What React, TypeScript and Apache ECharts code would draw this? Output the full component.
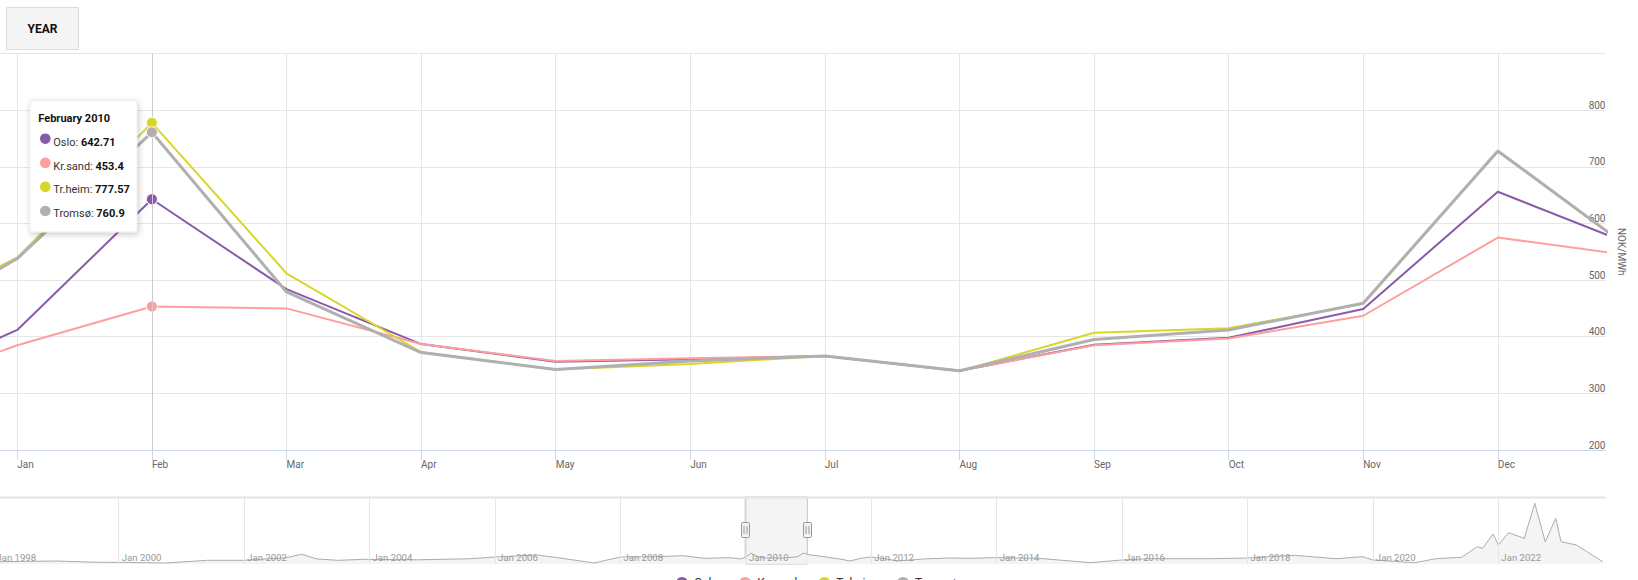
import React, { useEffect, useRef } from "react";
import * as echarts from "echarts";

// ---------- data ----------
const monthLabels = ["Jan", "Feb", "Mar", "Apr", "May", "Jun", "Jul", "Aug", "Sep", "Oct", "Nov", "Dec"];
const monthNamesFull = ["January", "February", "March", "April", "May", "June", "July", "August", "September", "October", "November", "December"];

const pointMonths = ["2009-12", "2010-01", "2010-02", "2010-03", "2010-04", "2010-05", "2010-06", "2010-07", "2010-08", "2010-09", "2010-10", "2010-11", "2010-12", "2011-01"];

const seriesNames = ["Oslo", "Kr.sand", "Tr.heim", "Tromsø"];
const oslo = [305, 412, 642.71, 484, 387, 356, 360, 366, 340, 386, 398, 449, 656, 562];
const krsand = [298, 385, 453.4, 450, 387, 357, 362, 366, 340, 385, 397, 437, 575, 543];
const trheim = [420, 540, 777.57, 512, 373, 342, 352, 366, 339, 407, 415, 458, 727, 553];
const tromso = [400, 538, 760.9, 479, 372, 342, 357, 366, 340, 395, 412, 459, 728, 553];

const hoverMonth = "2010-02";

const yTickMin = 200;
const yTickMax = 900;
const yTickStep = 100;

// navigator (overview) series
const navMonths = [
  "1998-02", "1999-01", "1999-09", "2000-01", "2000-10", "2001-06", "2002-01", "2002-09", "2002-12", "2003-03",
  "2003-07", "2003-12", "2004-10", "2005-08", "2006-01", "2006-09", "2007-01", "2007-08", "2008-01", "2008-08",
  "2009-01", "2009-05", "2009-10", "2009-12", "2010-01", "2010-02", "2010-03", "2010-04", "2010-05", "2010-06",
  "2010-07", "2010-08", "2010-09", "2010-10", "2010-11", "2010-12", "2011-01", "2011-04", "2011-07", "2011-09",
  "2011-11", "2012-01", "2012-04", "2012-06", "2012-11", "2013-04", "2013-08", "2014-01", "2014-09", "2015-07",
  "2016-01", "2016-06", "2017-06", "2018-01", "2018-10", "2019-06", "2019-11", "2020-01", "2020-09", "2021-01",
  "2021-06", "2021-09", "2021-10", "2021-12", "2022-01", "2022-03", "2022-06", "2022-08", "2022-10", "2022-12",
  "2023-01", "2023-04", "2023-06", "2023-09",
];
const navValues = [
  137, 179, 100, 100, 60, 220, 220, 376, 580, 300,
  220, 280, 250, 310, 418, 537, 376, 60, 418, 436,
  496, 340, 376, 305, 412, 643, 484, 387, 356, 360,
  366, 340, 386, 398, 449, 656, 562, 436, 300, 180,
  340, 420, 300, 180, 300, 360, 340, 380, 340, 80,
  239, 316, 316, 358, 518, 316, 438, 239, 78, 316,
  398, 1035, 935, 1791, 1134, 1870, 1533, 3624, 1331, 2728,
  1331, 1134, 736, 137,
];
const navTickYears = [1998, 2000, 2002, 2004, 2006, 2008, 2010, 2012, 2014, 2016, 2018, 2020, 2022];
const rangeStart = "2009-12-28";
const rangeEnd = "2010-12-25";

// ---------- helpers ----------
const seriesColors = ["#8a5aaa", "#ff9e9e", "#dad628", "#b0b0b0"];
const seriesWidths = [2, 2, 2, 3];
const FONT = "Roboto";
const OFFSET = 60; // chart canvas starts 60px left of the page

function monthIndex(ym: string): number {
  const [y, m] = ym.split("-").map(Number);
  return (y - 2010) * 12 + (m - 1);
}
function ts(s: string): number {
  const p = s.split("-").map(Number);
  return Date.UTC(p[0], p[1] - 1, p[2] || 1);
}

export default function App() {
  const ref = useRef<HTMLDivElement>(null);

  useEffect(() => {
    document.body.style.margin = "0";
    document.body.style.overflow = "hidden";
    if (!ref.current) return;
    const chart = echarts.init(ref.current, null, { renderer: "svg" });

    const allValues = [oslo, krsand, trheim, tromso];
    const hoverIdx = pointMonths.indexOf(hoverMonth);
    const hoverX = monthIndex(hoverMonth);
    const tickIdx = monthLabels.map((_, i) => i);

    const mainSeries = seriesNames.map((name, s) => ({
      name,
      type: "line",
      xAxisIndex: 0,
      yAxisIndex: 0,
      data: pointMonths.map((m, i) => [monthIndex(m), allValues[s][i]]),
      symbol: "circle",
      symbolSize: (_v: any, p: any) => (p.dataIndex === hoverIdx ? 11 : 0),
      showSymbol: true,
      itemStyle: { color: seriesColors[s], borderColor: "#ffffff", borderWidth: 1 },
      lineStyle: { color: seriesColors[s], width: seriesWidths[s] },
      emphasis: { disabled: true },
      silent: true,
      z: 3 + s,
      markLine:
        s === 0
          ? {
              silent: true,
              symbol: ["none", "none"],
              label: { show: false },
              lineStyle: { color: "#cccccc", width: 1, type: "solid" },
              data: [{ xAxis: hoverX }],
            }
          : undefined,
    }));

    const navTicks = navTickYears.map((y) => Date.UTC(y, 0, 1));

    chart.setOption({
      animation: false,
      textStyle: { fontFamily: FONT },
      grid: [
        { left: OFFSET, right: 32.5, top: 53.5, height: 396.5 },
        { left: 0, right: 32.5, top: 497, height: 67 },
      ],
      legend: {
        data: seriesNames,
        left: OFFSET + 674,
        top: 575,
        padding: 0,
        icon: "circle",
        itemWidth: 14,
        itemHeight: 14,
        itemGap: 19,
        textStyle: { fontSize: 12, color: "#333", fontFamily: FONT },
      },
      xAxis: [
        {
          type: "value",
          gridIndex: 0,
          min: -0.1285,
          max: 11.8,
          axisLine: { show: true, lineStyle: { color: "#ccd6eb" } },
          axisTick: { show: true, customValues: tickIdx, length: 10, lineStyle: { color: "#ccd6eb" } },
          axisLabel: {
            customValues: tickIdx,
            formatter: (v: number) => monthLabels[Math.round(v)] || "",
            align: "left",
            margin: 9,
            color: "#666",
            fontSize: 10,
            fontFamily: FONT,
          },
          splitLine: { show: true, lineStyle: { color: "#e6e6e6" } },
        },
        {
          type: "value",
          gridIndex: 1,
          z: 5,
          min: Date.UTC(1997, 1, 24),
          max: Date.UTC(2023, 8, 17),
          axisLine: { show: false },
          axisTick: { show: false, customValues: navTicks },
          axisLabel: {
            customValues: navTicks,
            inside: true,
            formatter: (v: number) => "Jan " + new Date(v).getUTCFullYear(),
            align: "left",
            verticalAlign: "bottom",
            margin: 2,
            padding: [0, 0, 0, 3],
            color: "#999",
            fontSize: 9.6,
            fontFamily: FONT,
          },
          splitLine: { show: true, lineStyle: { color: "#e6e6e6" } },
        },
      ],
      yAxis: [
        {
          type: "value",
          gridIndex: 0,
          position: "right",
          min: yTickMin,
          max: yTickMax,
          interval: yTickStep,
          axisLine: { show: false },
          axisTick: { show: false },
          axisLabel: {
            inside: true,
            margin: 0,
            verticalAlign: "bottom",
            color: "#666",
            fontSize: 10,
            fontFamily: FONT,
            showMaxLabel: false,
          },
          splitLine: { show: true, lineStyle: { color: "#e6e6e6" } },
          name: "NOK/MWh",
          nameLocation: "middle",
          nameRotate: -90,
          nameGap: 8,
          nameTextStyle: { color: "#666", fontSize: 10, fontFamily: FONT },
        },
        { type: "value", gridIndex: 1, min: 0, max: 4000, show: false },
      ],
      series: [
        ...mainSeries,
        {
          name: "Navigator",
          type: "line",
          xAxisIndex: 1,
          yAxisIndex: 1,
          z: 1,
          data: navMonths.map((m, i) => [ts(m), navValues[i]]),
          symbol: "none",
          silent: true,
          lineStyle: { color: "#ababab", width: 1 },
          areaStyle: { color: "#f2f2f2", opacity: 0.85 },
          markArea: {
            silent: true,
            itemStyle: { color: "rgba(0,0,0,0.045)", borderColor: "#c4c4c4", borderWidth: 1 },
            data: [[{ xAxis: ts(rangeStart) }, { xAxis: ts(rangeEnd) }]],
          },
        },
      ],
    });

    // ---------- overlay graphics ----------
    const x1 = chart.convertToPixel({ xAxisIndex: 1 } as any, ts(rangeStart)) as number;
    const x2 = chart.convertToPixel({ xAxisIndex: 1 } as any, ts(rangeEnd)) as number;

    const handle = (x: number) => [
      { type: "rect", z: 20, shape: { x: Math.round(x) - 3.5, y: 522.5, width: 8, height: 15, r: 1 }, style: { fill: "#f2f2f2", stroke: "#999", lineWidth: 1 } },
      { type: "line", z: 21, shape: { x1: Math.round(x) - 1, y1: 526, x2: Math.round(x) - 1, y2: 534 }, style: { stroke: "#999", lineWidth: 1 } },
      { type: "line", z: 21, shape: { x1: Math.round(x) + 2, y1: 526, x2: Math.round(x) + 2, y2: 534 }, style: { stroke: "#999", lineWidth: 1 } },
    ];

    const [hy, hm] = hoverMonth.split("-").map(Number);
    const tipTitle = monthNamesFull[hm - 1] + " " + hy;
    const tipX = OFFSET + 30;
    const tipY = 100.5;
    const rows: any[] = [];
    seriesNames.forEach((name, s) => {
      rows.push({ type: "circle", z: 52, shape: { cx: tipX + 15.3, cy: tipY + 38.2 + 24.1 * s, r: 5.3 }, style: { fill: seriesColors[s] } });
      rows.push({
        type: "text",
        z: 52,
        x: tipX + 23.3,
        y: tipY + 41.8 + 23.8 * s,
        style: {
          text: "{a|" + name + ": }{b|" + String(allValues[s][hoverIdx]) + "}",
          verticalAlign: "middle",
          rich: {
            a: { fontSize: 11, fontFamily: FONT, fill: "#333", color: "#333" },
            b: { fontSize: 11, fontFamily: FONT, fontWeight: "bold", fill: "#111", color: "#111" },
          },
        },
      });
    });

    chart.setOption({
      graphic: [
        {
          type: "rect",
          z: 10,
          shape: { x: OFFSET + 6.5, y: 7.5, width: 72, height: 42 },
          style: { fill: "#f5f5f5", stroke: "#dcdcdc", lineWidth: 1 },
        },
        {
          type: "text",
          z: 11,
          x: OFFSET + 42.5,
          y: 28.5,
          style: { text: "YEAR", fontSize: 12, fontWeight: "bold", fontFamily: FONT, fill: "#111", align: "center", verticalAlign: "middle" },
        },
        {
          type: "rect",
          z: 10,
          shape: { x: OFFSET, y: 496.5, width: 1605.5, height: 2 },
          style: { fill: "#e4e4e4" },
        },
        ...handle(x1),
        ...handle(x2),
        {
          type: "rect",
          z: 50,
          shape: { x: tipX, y: tipY, width: 107, height: 131.5, r: 2 },
          style: { fill: "#ffffff", stroke: "#ececec", lineWidth: 1, shadowBlur: 6, shadowColor: "rgba(0,0,0,0.22)", shadowOffsetX: 1, shadowOffsetY: 2 },
        },
        {
          type: "text",
          z: 52,
          x: tipX + 8.3,
          y: tipY + 17.5,
          style: { text: tipTitle, fontSize: 11, fontWeight: "bold", fontFamily: FONT, fill: "#111", verticalAlign: "middle" },
        },
        ...rows,
      ],
    });

    return () => chart.dispose();
  }, []);

  return <div ref={ref} style={{ position: "absolute", left: -OFFSET, top: 0, width: 1638 + OFFSET, height: 580 }} />;
}
